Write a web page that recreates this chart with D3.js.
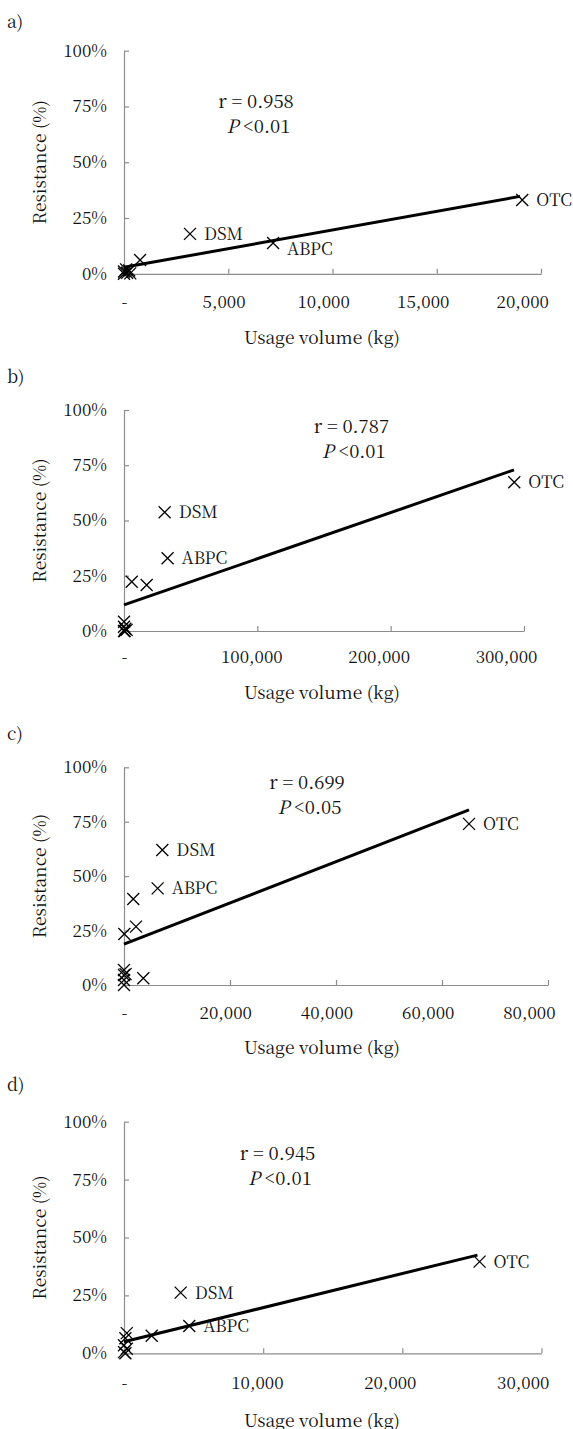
<!DOCTYPE html>
<html>
<head>
<meta charset="utf-8">
<script src="https://cdnjs.cloudflare.com/ajax/libs/d3/7.8.5/d3.min.js"></script>
<style>
	body { margin:0; background:#fff; }
</style>
</head>
<body>
<svg id="svg" width="573" height="1429"></svg>
<script>

// panel letters and statistics text
var panelLetters = ["a)", "b)", "c)", "d)"];
var statR = ["r = 0.958", "r = 0.787", "r = 0.699", "r = 0.945"];
var statP = ["<0.01", "<0.01", "<0.05", "<0.01"];

// tick values
var yTicks = [0, 25, 50, 75, 100];
var xTicksA = [0, 5000, 10000, 15000, 20000];
var xTicksB = [0, 100000, 200000, 300000];
var xTicksC = [0, 20000, 40000, 60000, 80000];
var xTicksD = [0, 10000, 20000, 30000];

// a) usage (kg) vs resistance (%)
var usageA  = [0, 0, 150, 300, 250, 100, 770, 3165, 7150, 19100];
var resistA = [0, 1, 0.5, 0.2, 1.5, 2, 6.2, 17.9, 13.8, 33.1];
var namesA  = ["", "", "", "", "", "", "", "DSM", "ABPC", "OTC"];

// b)
var usageB  = [0, 0, 0, 1000, 500, 2000, 5800, 17000, 30500, 32700, 292700];
var resistB = [4.2, 1.9, 0, 1, 0, 0.5, 22.3, 20.8, 53.7, 32.9, 67.3];
var namesB  = ["", "", "", "", "", "", "", "", "DSM", "ABPC", "OTC"];

// c)
var usageC  = [0, 0, 0, 0, 300, 60, 1750, 2260, 3640, 7230, 6350, 65100];
var resistC = [6.9, 4.6, 2.3, 0, 5, 23.4, 39.5, 26.8, 3.1, 62, 44.4, 74];
var namesC  = ["", "", "", "", "", "", "", "", "", "DSM", "ABPC", "OTC"];

// d)
var usageD  = [200, 100, 0, 200, 0, 100, 1990, 4070, 4690, 25550];
var resistD = [8.7, 6.5, 3.5, 2, 0.5, 0, 7.6, 26.2, 11.8, 39.6];
var namesD  = ["", "", "", "", "", "", "", "DSM", "ABPC", "OTC"];

// trend line end points
var trendXA = [0, 19000],  trendYA = [2.9, 34.7];
var trendXB = [0, 292500], trendYB = [11.8, 72.9];
var trendXC = [0, 65100],  trendYC = [18.8, 80.4];
var trendXD = [0, 25400],  trendYD = [5, 42.4];

var usage  = [usageA, usageB, usageC, usageD];
var resist = [resistA, resistB, resistC, resistD];
var names  = [namesA, namesB, namesC, namesD];
var xTicks = [xTicksA, xTicksB, xTicksC, xTicksD];
var trendX = [trendXA, trendXB, trendXC, trendXD];
var trendY = [trendYA, trendYB, trendYC, trendYD];

// layout of each panel (pixels)
var layout = [
	{ x0:124, x1:541,   yTop:50.7,   yBot:273.8,  letterY:21.7, statX:256,   statY:101.7,  xPad:29, titleY:338 },
	{ x0:124, x1:524,   yTop:410,    yBot:631,    letterY:376.7, statX:351.4, statY:426.7, xPad:27, titleY:693 },
	{ x0:124, x1:548,   yTop:767.3,  yBot:985,    letterY:734,  statX:307,   statY:782.7,  xPad:29, titleY:1048 },
	{ x0:124, x1:541.5, yTop:1121.7, yBot:1353.3, letterY:1085, statX:277.5, statY:1153.3, xPad:31, titleY:1420.7 }
];

var fontFam = "'Noto Serif CJK JP'";
var axisColor = "#8c8c8c";
var textColor = "#111";

var svg = d3.select("#svg");

var fmtX = function(v){ return v === 0 ? "-" : d3.format(",")(v); };

// helper for plain text
var addText = function( g , x , y , size , anchor , str )
{
	return g.append("text")
		.attr("x", x).attr("y", y).attr("dy", "0.35em")
		.style("font-family", fontFam)
		.style("font-size", size + "px")
		.attr("text-anchor", anchor)
		.attr("fill", textColor)
		.text(str);
};

var drawPanel = function( i )
{
	var L = layout[i];
	var xs = xTicks[i];

	var x = d3.scaleLinear().domain([0, xs[xs.length-1]]).range([L.x0, L.x1]);
	var y = d3.scaleLinear().domain([0, 100]).range([L.yBot, L.yTop]);

	var g = svg.append("g");

	// panel letter
	addText(g, 7, L.letterY, 17.5, "start", panelLetters[i]);

	////////////////////////////
	// axes

	var gx = g.append("g")
		.attr("transform", "translate(0," + L.yBot + ")")
		.call(d3.axisBottom(x).tickValues(xs).tickFormat(fmtX)
			.tickSize(-5).tickSizeOuter(0).tickPadding(L.xPad - 7));

	// labels drift left a bit as in the original
	gx.selectAll(".tick text")
		.attr("dx", function(d){ return -0.045 * (x(d) - L.x0); });

	var gy = g.append("g")
		.attr("transform", "translate(" + L.x0 + ",0)")
		.call(d3.axisLeft(y).tickValues(yTicks).tickFormat(function(d){ return d + "%"; })
			.tickSize(-5).tickSizeOuter(0).tickPadding(17));

	[gx, gy].forEach(function(a){
		a.select(".domain").attr("stroke", axisColor).attr("stroke-width", 1.2);
		a.selectAll(".tick line").attr("stroke", axisColor).attr("stroke-width", 1.2);
		a.selectAll(".tick text")
			.style("font-family", fontFam)
			.style("font-size", "17px")
			.attr("fill", textColor);
	});

	// axis titles
	addText(g, 322, L.titleY, 17.5, "middle", "Usage volume (kg)");

	addText(g, 0, 0, 17.5, "middle", "Resistance (%)")
		.attr("transform", "translate(40," + ((L.yTop + L.yBot) / 2) + ") rotate(-90)");

	////////////////////////////
	// trend line

	var tl = trendX[i].map(function(v, k){ return [v, trendY[i][k]]; });
	g.append("path")
		.datum(tl)
		.attr("d", d3.line().x(function(d){ return x(d[0]); }).y(function(d){ return y(d[1]); }))
		.attr("stroke", "#000").attr("stroke-width", 3).attr("fill", "none");

	////////////////////////////
	// points (x marks) and labels

	var pts = usage[i].map(function(v, k){
		return { u:v, r:resist[i][k], name:names[i][k] };
	});

	g.selectAll("path.mark")
		.data(pts)
		.enter().append("path")
		.attr("class", "mark")
		.attr("transform", function(d){ return "translate(" + x(d.u) + "," + y(d.r) + ")"; })
		.attr("d", "M-6,-6L6,6M-6,6L6,-6")
		.attr("stroke", "#000").attr("stroke-width", 1.3).attr("fill", "none");

	pts.filter(function(d){ return d.name; }).forEach(function(d){
		var dy = (i === 0 && d.name === "ABPC") ? 6 : 0;
		addText(g, x(d.u) + 14, y(d.r) + dy, 17, "start", d.name);
	});

	////////////////////////////
	// statistics text

	addText(g, L.statX, L.statY, 18.5, "middle", statR[i]);

	// leading and inner spaces kept with no-break spaces
	var tp = addText(g, L.statX, L.statY + 25, 18.5, "middle", null);
	tp.append("tspan").text("\u00a0");
	tp.append("tspan").attr("font-style", "italic").text("P");
	tp.append("tspan").text("\u00a0" + statP[i]);
};

for (var i = 0; i < 4; i++) drawPanel(i);

</script>
</body>
</html>
